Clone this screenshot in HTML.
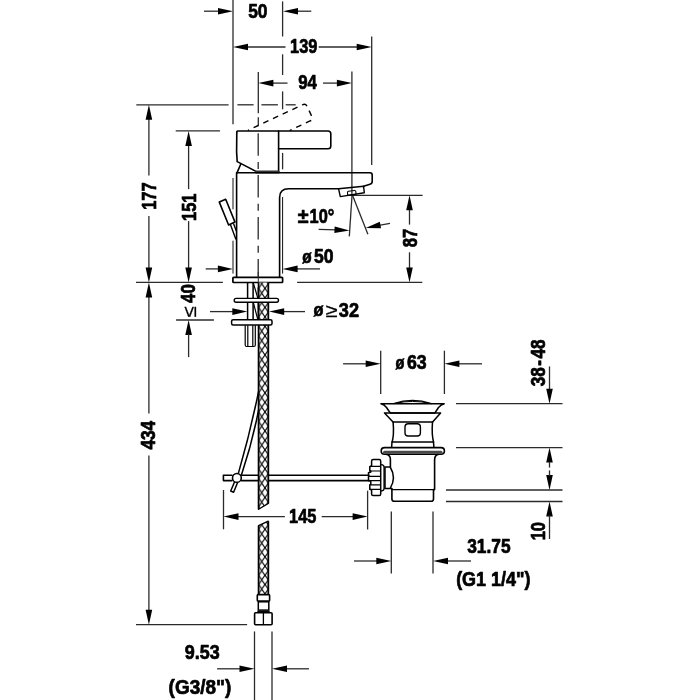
<!DOCTYPE html>
<html lang="en"><head><meta charset="utf-8"><title>Technical drawing</title>
<style>
html,body{margin:0;padding:0;background:#fff;}
body{width:700px;height:700px;overflow:hidden;}
svg{display:block;will-change:transform;opacity:0.999;}
text{font-family:"Liberation Sans",sans-serif;font-weight:bold;fill:#000;stroke:#000;stroke-width:0.7px;stroke-linejoin:round;}
</style></head><body>
<svg width="700" height="700" viewBox="0 0 700 700">
<rect width="700" height="700" fill="#fff"/>
<line x1="204" y1="11.2" x2="220" y2="11.2" stroke="#2b2b2b" stroke-width="1.3" />
<polygon points="233.00,11.20 218.00,14.50 218.00,7.90" fill="#000"/>
<line x1="296" y1="11.2" x2="311.3" y2="11.2" stroke="#2b2b2b" stroke-width="1.3" />
<polygon points="283.00,11.20 298.00,7.90 298.00,14.50" fill="#000"/>
<line x1="233" y1="0" x2="233" y2="124.3" stroke="#2b2b2b" stroke-width="1.3" />
<line x1="233" y1="178" x2="233" y2="209.3" stroke="#111" stroke-width="1.0" />
<line x1="233" y1="240.7" x2="233" y2="273.6" stroke="#111" stroke-width="1.0" />
<line x1="282.6" y1="1.4" x2="282.6" y2="36.5" stroke="#2b2b2b" stroke-width="1.3" />
<line x1="282.6" y1="54.3" x2="282.6" y2="75" stroke="#2b2b2b" stroke-width="1.3" />
<line x1="282.6" y1="91.4" x2="282.6" y2="109.3" stroke="#2b2b2b" stroke-width="1.3" />
<line x1="282.6" y1="152.9" x2="282.6" y2="169.3" stroke="#2b2b2b" stroke-width="1.3" />
<line x1="282.6" y1="197" x2="282.6" y2="273.6" stroke="#111" stroke-width="1.0" />
<line x1="247" y1="47" x2="285.5" y2="47" stroke="#2b2b2b" stroke-width="1.3" />
<polygon points="233.00,47.00 248.00,43.70 248.00,50.30" fill="#000"/>
<line x1="318.7" y1="47" x2="358" y2="47" stroke="#2b2b2b" stroke-width="1.3" />
<polygon points="371.70,47.00 356.70,50.30 356.70,43.70" fill="#000"/>
<line x1="371.7" y1="36.6" x2="371.7" y2="165" stroke="#2b2b2b" stroke-width="1.3" />
<line x1="272" y1="83.1" x2="287.5" y2="83.1" stroke="#2b2b2b" stroke-width="1.3" />
<polygon points="258.40,83.10 273.40,79.80 273.40,86.40" fill="#000"/>
<line x1="323" y1="83.1" x2="338" y2="83.1" stroke="#2b2b2b" stroke-width="1.3" />
<polygon points="351.90,83.10 336.90,86.40 336.90,79.80" fill="#000"/>
<line x1="351.9" y1="71.4" x2="351.9" y2="195.7" stroke="#2b2b2b" stroke-width="1.3" />
<line x1="258.3" y1="72" x2="258.3" y2="113.3" stroke="#2b2b2b" stroke-width="1.3" />
<line x1="258.3" y1="117.3" x2="258.3" y2="125" stroke="#2b2b2b" stroke-width="1.3" />
<line x1="258.2" y1="133.2" x2="258.2" y2="320" stroke="#2b2b2b" stroke-width="1.3" stroke-dasharray="22.5 6.2 7 6.2"/>
<line x1="136.3" y1="104.8" x2="228.6" y2="104.8" stroke="#2b2b2b" stroke-width="1.3" />
<line x1="237.4" y1="104.8" x2="253.6" y2="104.8" stroke="#2b2b2b" stroke-width="1.3" />
<line x1="261.4" y1="104.8" x2="277.9" y2="104.8" stroke="#2b2b2b" stroke-width="1.3" />
<line x1="285.7" y1="104.8" x2="295.7" y2="104.8" stroke="#2b2b2b" stroke-width="1.3" />
<line x1="148.9" y1="119" x2="148.9" y2="175.4" stroke="#2b2b2b" stroke-width="1.3" />
<line x1="148.9" y1="216" x2="148.9" y2="268" stroke="#2b2b2b" stroke-width="1.3" />
<polygon points="148.90,104.80 152.20,119.80 145.60,119.80" fill="#000"/>
<polygon points="148.90,282.40 145.60,267.40 152.20,267.40" fill="#000"/>
<line x1="175.7" y1="130.9" x2="220" y2="130.9" stroke="#2b2b2b" stroke-width="1.3" />
<line x1="188.6" y1="145" x2="188.6" y2="189.1" stroke="#2b2b2b" stroke-width="1.3" />
<line x1="188.6" y1="221.1" x2="188.6" y2="268" stroke="#2b2b2b" stroke-width="1.3" />
<polygon points="188.60,130.90 191.90,145.90 185.30,145.90" fill="#000"/>
<polygon points="188.60,282.40 185.30,267.40 191.90,267.40" fill="#000"/>
<line x1="136" y1="282.4" x2="222.9" y2="282.4" stroke="#2b2b2b" stroke-width="1.3" />
<line x1="297.1" y1="282.4" x2="422.3" y2="282.4" stroke="#2b2b2b" stroke-width="1.3" />
<line x1="148.9" y1="297" x2="148.9" y2="413.6" stroke="#2b2b2b" stroke-width="1.3" />
<line x1="148.9" y1="455.6" x2="148.9" y2="611" stroke="#2b2b2b" stroke-width="1.3" />
<polygon points="148.90,282.40 152.20,297.40 145.60,297.40" fill="#000"/>
<polygon points="148.90,624.70 145.60,609.70 152.20,609.70" fill="#000"/>
<line x1="136" y1="624.7" x2="247.1" y2="624.7" stroke="#2b2b2b" stroke-width="1.3" />
<line x1="176.1" y1="320" x2="213.9" y2="320" stroke="#2b2b2b" stroke-width="1.3" />
<polygon points="188.60,320.00 191.90,335.00 185.30,335.00" fill="#000"/>
<line x1="188.6" y1="334" x2="188.6" y2="357.1" stroke="#2b2b2b" stroke-width="1.3" />
<line x1="205.7" y1="268.9" x2="219" y2="268.9" stroke="#2b2b2b" stroke-width="1.3" />
<polygon points="232.90,268.90 217.90,272.20 217.90,265.60" fill="#000"/>
<line x1="297" y1="268.9" x2="320" y2="268.9" stroke="#2b2b2b" stroke-width="1.3" />
<polygon points="282.60,268.90 297.60,265.60 297.60,272.20" fill="#000"/>
<line x1="210" y1="311.6" x2="233" y2="311.6" stroke="#2b2b2b" stroke-width="1.3" />
<polygon points="247.30,311.60 232.30,314.90 232.30,308.30" fill="#000"/>
<line x1="283" y1="311.6" x2="305" y2="311.6" stroke="#2b2b2b" stroke-width="1.3" />
<polygon points="269.20,311.60 284.20,308.30 284.20,314.90" fill="#000"/>
<line x1="352.9" y1="195.3" x2="422.6" y2="195.3" stroke="#2b2b2b" stroke-width="1.3" />
<line x1="409.5" y1="209" x2="409.5" y2="224.6" stroke="#2b2b2b" stroke-width="1.3" />
<line x1="409.5" y1="252.3" x2="409.5" y2="268" stroke="#2b2b2b" stroke-width="1.3" />
<polygon points="409.50,195.30 412.80,210.30 406.20,210.30" fill="#000"/>
<polygon points="409.50,282.40 406.20,267.40 412.80,267.40" fill="#000"/>
<line x1="352.1" y1="194.3" x2="349.3" y2="236.4" stroke="#2b2b2b" stroke-width="1.3" />
<line x1="352.1" y1="194.3" x2="367.9" y2="234.3" stroke="#2b2b2b" stroke-width="1.3" />
<line x1="318.6" y1="229.3" x2="336" y2="229.9" stroke="#2b2b2b" stroke-width="1.3" />
<polygon points="349.50,230.40 334.37,233.04 334.66,226.45" fill="#000"/>
<line x1="379" y1="225.4" x2="390" y2="223.3" stroke="#2b2b2b" stroke-width="1.3" />
<polygon points="365.70,227.90 379.83,221.87 381.05,228.36" fill="#000"/>
<line x1="223.5" y1="490" x2="223.5" y2="529.3" stroke="#2b2b2b" stroke-width="1.3" />
<line x1="367.6" y1="490.7" x2="367.6" y2="529.5" stroke="#2b2b2b" stroke-width="1.3" />
<line x1="237" y1="516.6" x2="284.9" y2="516.6" stroke="#2b2b2b" stroke-width="1.3" />
<polygon points="223.50,516.60 238.50,513.30 238.50,519.90" fill="#000"/>
<line x1="321.7" y1="516.6" x2="354" y2="516.6" stroke="#2b2b2b" stroke-width="1.3" />
<polygon points="367.60,516.60 352.60,519.90 352.60,513.30" fill="#000"/>
<line x1="380.7" y1="350.7" x2="380.7" y2="394" stroke="#2b2b2b" stroke-width="1.3" />
<line x1="444.4" y1="350.7" x2="444.4" y2="394" stroke="#2b2b2b" stroke-width="1.3" />
<line x1="343.1" y1="363.8" x2="367" y2="363.8" stroke="#2b2b2b" stroke-width="1.3" />
<polygon points="380.70,363.80 365.70,367.10 365.70,360.50" fill="#000"/>
<line x1="458" y1="363.8" x2="482" y2="363.8" stroke="#2b2b2b" stroke-width="1.3" />
<polygon points="444.40,363.80 459.40,360.50 459.40,367.10" fill="#000"/>
<line x1="456" y1="403.7" x2="562.5" y2="403.7" stroke="#2b2b2b" stroke-width="1.3" />
<line x1="456" y1="447.6" x2="562.5" y2="447.6" stroke="#2b2b2b" stroke-width="1.3" />
<line x1="446" y1="490" x2="562.5" y2="490" stroke="#2b2b2b" stroke-width="1.3" />
<line x1="446" y1="501.5" x2="562.5" y2="501.5" stroke="#2b2b2b" stroke-width="1.3" />
<line x1="549.5" y1="366.4" x2="549.5" y2="390" stroke="#2b2b2b" stroke-width="1.3" />
<polygon points="549.50,403.70 546.20,388.70 552.80,388.70" fill="#000"/>
<polygon points="549.50,447.60 552.80,462.60 546.20,462.60" fill="#000"/>
<polygon points="549.50,490.00 546.20,475.00 552.80,475.00" fill="#000"/>
<line x1="549.5" y1="462" x2="549.5" y2="467.6" stroke="#2b2b2b" stroke-width="1.3" />
<line x1="549.5" y1="470.4" x2="549.5" y2="476" stroke="#2b2b2b" stroke-width="1.3" />
<polygon points="549.50,501.50 552.80,516.50 546.20,516.50" fill="#000"/>
<line x1="549.5" y1="515" x2="549.5" y2="539" stroke="#2b2b2b" stroke-width="1.3" />
<line x1="391.3" y1="511.6" x2="391.3" y2="573.6" stroke="#2b2b2b" stroke-width="1.3" />
<line x1="433" y1="511.6" x2="433" y2="573.6" stroke="#2b2b2b" stroke-width="1.3" />
<line x1="354" y1="561" x2="377" y2="561" stroke="#2b2b2b" stroke-width="1.3" />
<polygon points="391.30,561.00 376.30,564.30 376.30,557.70" fill="#000"/>
<line x1="447" y1="561" x2="471" y2="561" stroke="#2b2b2b" stroke-width="1.3" />
<polygon points="433.00,561.00 448.00,557.70 448.00,564.30" fill="#000"/>
<line x1="254.5" y1="631.4" x2="254.5" y2="700" stroke="#2b2b2b" stroke-width="1.3" />
<line x1="272" y1="631.4" x2="272" y2="700" stroke="#2b2b2b" stroke-width="1.3" />
<line x1="217.1" y1="668.8" x2="241" y2="668.8" stroke="#2b2b2b" stroke-width="1.3" />
<polygon points="254.50,668.80 239.50,672.10 239.50,665.50" fill="#000"/>
<line x1="286" y1="668.8" x2="309" y2="668.8" stroke="#2b2b2b" stroke-width="1.3" />
<polygon points="272.00,668.80 287.00,665.50 287.00,672.10" fill="#000"/>
<g transform="translate(248.6,130) rotate(-25.1)"><path d="M-0.7,0 L59.5,0 Q63,0 63,3.5 L63,14.4 Q63,17.9 59.5,17.9 L37,17.9" fill="none" stroke="#000" stroke-width="1.4" stroke-dasharray="5.7 5" stroke-dashoffset="4.5"/></g>
<path d="M236.8,132 Q236.8,131 237.8,131 L328,131 Q330.8,131 330.8,133.8 L330.8,146 Q330.8,148.7 328,148.7 L278.6,148.7" stroke="#000" stroke-width="1.6" fill="none" stroke-linejoin="round" stroke-linecap="round" />
<path d="M236.8,132 L236.6,152 L237.2,161.6 L255.9,171.4" stroke="#000" stroke-width="1.6" fill="none" stroke-linejoin="round" stroke-linecap="round" />
<path d="M278.6,131 L278.6,172" stroke="#000" stroke-width="1.6" fill="none" stroke-linejoin="round" stroke-linecap="round" />
<path d="M256.3,171.9 L278.3,171.9" stroke="#333" stroke-width="3.0" fill="none" stroke-linejoin="round" stroke-linecap="round" />
<path d="M240.7,164.3 L237.1,172.6" stroke="#000" stroke-width="1.6" fill="none" stroke-linejoin="round" stroke-linecap="round" />
<path d="M236.6,277 L236.6,172.7 L370,172.7 Q372.2,172.7 372.2,175 L372.2,181.5 Q372.2,183.6 370,184.2 L363.6,186.3" stroke="#000" stroke-width="1.6" fill="none" stroke-linejoin="round" stroke-linecap="round" />
<path d="M279.6,277 L279.6,197.5 Q279.6,188.8 288.6,188.8 L338.6,188.8" stroke="#000" stroke-width="1.6" fill="none" stroke-linejoin="round" stroke-linecap="round" />
<path d="M338.6,188.8 L363.6,186.3 L364.3,192.7 L340.3,196.6 Z" stroke="#000" stroke-width="1.4" fill="none" stroke-linejoin="round" stroke-linecap="round" />
<path d="M347.5,192.2 Q347.5,191.3 348.5,191.2 L354.5,190.5 Q355.7,190.4 355.8,191.5 L356,193.4 Q356,194.4 355,194.6 L348.8,195.4 Q347.7,195.4 347.6,194.4 Z" stroke="#000" stroke-width="1.1" fill="none" stroke-linejoin="round" stroke-linecap="round" />
<path d="M219.3,202.1 L225.7,199.3 L235,222.1 L228.6,225 Z" stroke="#000" stroke-width="1.6" fill="none" stroke-linejoin="round" stroke-linecap="round" />
<path d="M230.6,225 L235.8,239 M233.7,224 L236.3,231" stroke="#000" stroke-width="1.4" fill="none" stroke-linejoin="round" stroke-linecap="round" />
<rect x="232.9" y="277.4" width="49.7" height="5.1" rx="0.7" fill="#fff" stroke="#000" stroke-width="1.7"/>
<line x1="258.3" y1="272" x2="258.3" y2="283" stroke="#2b2b2b" stroke-width="1.0" />

<path d="M247.6,283 L247.6,320 M253.1,283 L253.1,320" stroke="#000" stroke-width="1.5" fill="none" stroke-linejoin="round" stroke-linecap="round" />
<path d="M253.3,283 L257.8,298 M253.3,302.4 L257.8,319.6" stroke="#000" stroke-width="1.2" fill="none" stroke-linejoin="round" stroke-linecap="round" />
<defs><pattern id="hx" x="258.6" y="345.4" width="6.4" height="9.5" patternUnits="userSpaceOnUse">
<path d="M-1,-1.484 L7.4,10.984 M7.4,-1.484 L-1,10.984" stroke="#000" stroke-width="1.15" fill="none"/>
</pattern><pattern id="hx2" x="258.6" y="547.7" width="6.4" height="9.2" patternUnits="userSpaceOnUse">
<path d="M-1,-1.4375 L7.4,10.6375 M7.4,-1.4375 L-1,10.6375" stroke="#000" stroke-width="1.15" fill="none"/>
</pattern></defs>
<path d="M232,475.2 L223.4,475.2 L223.4,480.6 L232,480.6 M241.5,475.2 L369,475.2 M241.5,480.6 L369,480.6" stroke="#000" stroke-width="1.6" fill="none" stroke-linejoin="round" stroke-linecap="round" />
<path d="M258.6,282.6 L268.3,282.6 L268.3,503.4 L258.6,509.3 Z" fill="#fff" stroke="none"/>
<path d="M258.6,282.6 L268.3,282.6 L268.3,503.4 L258.6,509.3 Z" fill="url(#hx)" stroke="none"/>
<path d="M258.6,282.6 L258.6,509.3 M268.3,282.6 L268.3,503.4" stroke="#000" stroke-width="1.8" fill="none"/>
<path d="M258.6,509.3 L268.3,503.4" stroke="#000" stroke-width="1.3" fill="none" stroke-linejoin="round" stroke-linecap="round" />
<path d="M258.6,525.7 L268.3,521.2 L268.3,594.3 L258.6,594.3 Z" fill="#fff" stroke="none"/>
<path d="M258.6,525.7 L268.3,521.2 L268.3,594.3 L258.6,594.3 Z" fill="url(#hx2)" stroke="none"/>
<path d="M258.6,525.7 L258.6,594.3 M268.3,521.2 L268.3,594.3" stroke="#000" stroke-width="1.8" fill="none"/>
<path d="M258.6,525.7 L268.3,521.2" stroke="#000" stroke-width="1.3" fill="none" stroke-linejoin="round" stroke-linecap="round" />
<rect x="234.2" y="298.4" width="44.3" height="3.8" rx="1.9" fill="#fff" stroke="#000" stroke-width="1.4"/>
<rect x="231.6" y="319.8" width="40.4" height="5.2" rx="1.5" fill="#fff" stroke="#000" stroke-width="1.5"/>
<path d="M245.2,325.5 L245.2,345 Q245.2,346.5 246.7,346.5 L253.8,346.5 Q255.3,346.5 255.3,345 L255.3,325.5 M247.8,325.5 L247.8,346 M252.8,325.5 L252.8,346" stroke="#000" stroke-width="1.2" fill="none" stroke-linejoin="round" stroke-linecap="round" />
<path d="M258.6,391.4 Q250.2,432.5 238.3,473.6 M258.6,410 Q252.3,442.3 241.6,474.6" stroke="#000" stroke-width="1.5" fill="none" stroke-linejoin="round" stroke-linecap="round" />
<path d="M234.4,482.3 L230.7,491 L233.6,492.3 L237.3,483.3" stroke="#000" stroke-width="1.5" fill="none" stroke-linejoin="round" stroke-linecap="round" />
<circle cx="236.9" cy="477.9" r="4.4" fill="#fff" stroke="#000" stroke-width="1.6"/>
<rect x="257.3" y="594.6" width="12.3" height="6.4" rx="0.8" fill="#fff" stroke="#000" stroke-width="1.6"/>
<rect x="258.3" y="601.8" width="10.5" height="8.3" fill="#fff" stroke="#000" stroke-width="1.5"/>
<path d="M257.8,611.3 L269.2,611.3" stroke="#000" stroke-width="1.3" fill="none" stroke-linejoin="round" stroke-linecap="round" />
<rect x="254.6" y="612.7" width="17.5" height="12.1" rx="1.0" fill="#fff" stroke="#000" stroke-width="1.6"/>
<path d="M263.4,613 L263.4,624.6" stroke="#000" stroke-width="1.3" fill="none" stroke-linejoin="round" stroke-linecap="round" />
<path d="M393.6,403.6 Q412.5,397.2 431.4,403.6" stroke="#000" stroke-width="1.3" fill="none" stroke-linejoin="round" stroke-linecap="round" />
<path d="M396,403.2 Q412.5,399.6 429,403.2" stroke="#000" stroke-width="1.0" fill="none" stroke-linejoin="round" stroke-linecap="round" />
<path d="M380.9,403.8 L444.2,403.8 Q441,404.8 438.5,407.5 Q436.5,410.5 435,412.9 L390.3,412.9 Q388.5,410.5 386.5,407.5 Q384.5,404.8 380.9,403.8 Z" stroke="#000" stroke-width="1.5" fill="none" stroke-linejoin="round" stroke-linecap="round" />
<path d="M384.5,412.9 L440.6,412.9 L432.6,422.1 L393,422.1 Z" stroke="#000" stroke-width="1.5" fill="none" stroke-linejoin="round" stroke-linecap="round" />
<path d="M393.1,422.1 Q393.7,428 393.4,434 Q393,439 392.1,442.1 L433.6,442.1 Q432.7,439 432.3,434 Q432,428 432.5,422.1" stroke="#000" stroke-width="1.5" fill="none" stroke-linejoin="round" stroke-linecap="round" />
<rect x="405" y="423.7" width="15.4" height="12.3" rx="3.2" fill="none" stroke="#000" stroke-width="1.4"/>
<path d="M392,442.1 L391.6,447.4 M433.5,442.1 L433.9,447.4" stroke="#000" stroke-width="1.5" fill="none" stroke-linejoin="round" stroke-linecap="round" />
<rect x="381.2" y="447.6" width="63.2" height="6.7" rx="3.3" fill="#fff" stroke="#000" stroke-width="1.6"/>
<path d="M384.5,452.3 L441,452.3" stroke="#4a4a4a" stroke-width="3.0" fill="none" stroke-linejoin="round" stroke-linecap="round" />
<path d="M387,454.6 Q390.4,455.5 390.4,459.5 L390.4,467 M391.9,489 L391.9,499 Q391.9,501.3 394.4,501.3 L431,501.3 Q433.5,501.3 433.5,499 L433.5,489.6 L434.6,489.6 L434.6,460 Q434.6,455.5 438,454.6" stroke="#000" stroke-width="1.6" fill="none" stroke-linejoin="round" stroke-linecap="round" />
<path d="M391.9,489.6 L434,489.6" stroke="#000" stroke-width="1.4" fill="none" stroke-linejoin="round" stroke-linecap="round" />
<path d="M390.4,467 L385,467 L385,488.4 L391.9,488.4 M390.2,467 Q396.6,477.7 390.2,488.4" stroke="#000" stroke-width="1.5" fill="none" stroke-linejoin="round" stroke-linecap="round" />
<path d="M381.4,464.6 Q383.9,464.8 384.1,467 L384.1,488.5 Q383.9,490.8 381.4,491" stroke="#000" stroke-width="1.4" fill="none" stroke-linejoin="round" stroke-linecap="round" />
<path d="M373.2,459.6 L379.2,459.6 Q380.7,459.6 380.7,461.2 L380.7,494 Q380.7,495.6 379.2,495.6 L373.2,495.6 Q371.6,495.6 371.6,494 L371.6,490 L369.8,489.3 L369.8,484.8 L370.8,484.2 L370.8,481.4 L368.5,480.6 L368.5,472.8 L370.8,472 L370.8,471.2 L369.8,470.8 L369.8,466.8 L371.6,466 L371.6,461.2 Q371.6,459.6 373.2,459.6 Z" stroke="#000" stroke-width="1.5" fill="none" stroke-linejoin="round" stroke-linecap="round" />
<path d="M370.2,466.4 L379.8,466.4 M370.2,471 L379.8,471 M369.2,476.4 L379.8,476.4 M369.2,480.6 L379.8,480.6 M370.2,484.8 L379.8,484.8 M370.2,489.4 L379.8,489.4" stroke="#000" stroke-width="1.2" fill="none" stroke-linejoin="round" stroke-linecap="round" />
<text transform="translate(248.18,17.90) scale(0.870,1)" font-size="20">50</text>
<text transform="translate(290.04,52.90) scale(0.820,1)" font-size="20">139</text>
<text transform="translate(298.19,88.90) scale(0.840,1)" font-size="20">94</text>
<text transform="translate(297.75,222.75) scale(0.981,1)" font-size="20">±</text>
<text transform="translate(309.61,222.50) scale(0.820,1)" font-size="20">10°</text>
<text transform="translate(302.20,262.75) scale(0.808,1)" font-size="19">ø</text>
<text transform="translate(314.08,263.00) scale(0.879,1)" font-size="20">50</text>
<text transform="translate(313.61,316.25) scale(0.858,1)" font-size="19">ø</text>
<text transform="translate(325.43,317.00) scale(1.147,1)" font-size="19" style="font-weight:normal;stroke-width:0.3px">≥</text>
<text transform="translate(338.87,316.50) scale(0.907,1)" font-size="20">32</text>
<text transform="translate(395.59,368.85) scale(0.767,1)" font-size="19">ø</text>
<text transform="translate(406.96,369.10) scale(0.889,1)" font-size="20">63</text>
<text transform="translate(289.04,522.90) scale(0.820,1)" font-size="20">145</text>
<text transform="translate(467.18,552.70) scale(0.867,1)" font-size="20">31.75</text>
<text transform="translate(456.13,586.20) scale(0.898,1)" font-size="20">(G1 1/4")</text>
<text transform="translate(184.78,659.30) scale(0.897,1)" font-size="20">9.53</text>
<text transform="translate(168.59,693.90) scale(0.948,1)" font-size="20">(G3/8")</text>
<text transform="translate(155.95,209.75) rotate(-90) scale(0.820,1)" font-size="20">177</text>
<text transform="translate(196.10,220.96) rotate(-90) scale(0.820,1)" font-size="20">151</text>
<text transform="translate(417.30,247.31) rotate(-90) scale(0.837,1)" font-size="20">87</text>
<text transform="translate(195.30,302.90) rotate(-90) scale(0.841,1)" font-size="20">40</text>
<text transform="translate(196.00,317.53) rotate(-90) scale(1.063,1)" font-size="19" style="font-weight:normal;stroke-width:0.3px">≤</text>
<text transform="translate(154.90,449.60) rotate(-90) scale(0.863,1)" font-size="20">434</text>
<text transform="translate(544.80,386.22) rotate(-90) scale(0.861,1)" font-size="20">38<tspan dx="1.6">-</tspan><tspan dx="1.6">48</tspan></text>
<text transform="translate(544.70,540.24) rotate(-90) scale(0.820,1)" font-size="20">10</text>
</svg>
</body></html>
